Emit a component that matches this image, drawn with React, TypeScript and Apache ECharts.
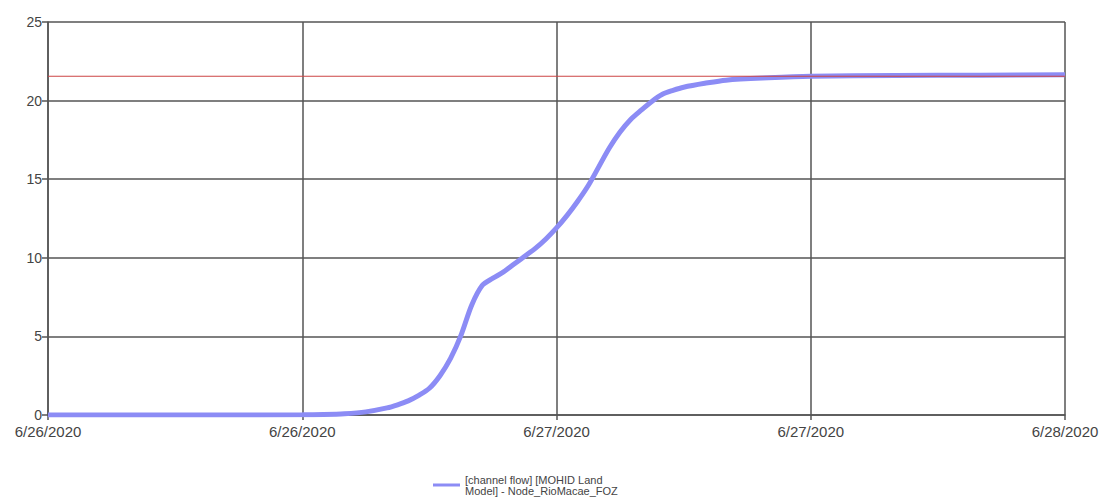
import React, { useEffect, useRef } from "react";
import * as echarts from "echarts";

// hours since 6/26/2020 00:00
const hours = [0, 4, 8, 12, 13, 14, 15, 16, 16.5, 17, 17.5, 18, 18.5, 19, 19.5, 20, 20.5, 21, 21.5, 22, 22.5, 23, 23.5, 24, 24.5, 25, 25.5, 26, 26.5, 27, 27.5, 28, 28.5, 29, 29.5, 30, 31, 32, 34, 36, 40, 44, 48];
const flow = [0, 0, 0, 0.01, 0.03, 0.08, 0.2, 0.45, 0.65, 0.9, 1.25, 1.7, 2.5, 3.6, 5.1, 7.0, 8.25, 8.7, 9.1, 9.6, 10.1, 10.6, 11.2, 11.9, 12.7, 13.6, 14.6, 15.8, 17.0, 18.0, 18.8, 19.4, 19.95, 20.4, 20.65, 20.85, 21.1, 21.3, 21.45, 21.55, 21.6, 21.62, 21.65];
const refHours = [0, 48];
const refValue = [21.55, 21.55];
const xTickLabels = ["6/26/2020", "6/26/2020", "6/27/2020", "6/27/2020", "6/28/2020"];
const seriesName = "[channel flow] [MOHID Land\nModel] - Node_RioMacae_FOZ";

export default function App() {
  const ref = useRef<HTMLDivElement>(null);
  useEffect(() => {
    document.body.style.margin = "0";
    const chart = echarts.init(ref.current!, null, { renderer: "svg" });
    const gridLine = { lineStyle: { color: "#555", width: 1.5 } };
    chart.setOption({
      animation: false,
      backgroundColor: "#fff",
      grid: { left: 48, right: 39, top: 22, bottom: 84, show: false },
      xAxis: {
        type: "value",
        min: 0,
        max: 48,
        interval: 12,
        axisLine: { show: true, lineStyle: { color: "#555", width: 1.5 } },
        axisTick: { show: true, length: 5, lineStyle: { color: "#555", width: 1.5 } },
        splitLine: { show: true, ...gridLine },
        axisLabel: {
          formatter: (v: number) => xTickLabels[Math.round(v / 12)] ?? "",
          color: "#444",
          fontFamily: "Liberation Sans, Arial, sans-serif",
          fontSize: 15,
          margin: 9,
          showMinLabel: true,
          showMaxLabel: true,
        },
      },
      yAxis: {
        type: "value",
        min: 0,
        max: 25,
        interval: 5,
        axisLine: { show: true, lineStyle: { color: "#555", width: 1.5 } },
        axisTick: { show: true, length: 6, lineStyle: { color: "#555", width: 1.5 } },
        splitLine: { show: true, ...gridLine },
        axisLabel: {
          color: "#444",
          fontFamily: "Liberation Sans, Arial, sans-serif",
          fontSize: 14,
          margin: 6,
        },
      },
      legend: {
        data: [{ name: seriesName, icon: "rect" }],
        left: 428,
        top: 469,
        itemWidth: 27,
        itemHeight: 3,
        itemGap: 6,
        textStyle: {
          color: "#444",
          fontFamily: "Liberation Sans, Arial, sans-serif",
          fontSize: 11,
          lineHeight: 11,
        },
      },
      series: [
        {
          name: "reference",
          type: "line",
          data: refHours.map((h, i) => [h, refValue[i]]),
          showSymbol: false,
          lineStyle: { color: "#cc4444", width: 1.2 },
          z: 3,
        },
        {
          name: seriesName,
          type: "line",
          data: hours.map((h, i) => [h, flow[i]]),
          showSymbol: false,
          smooth: 0.3,
          color: "#8c8cf5",
          lineStyle: { color: "#8c8cf5", width: 5 },
          z: 2,
        },
      ],
    });
    return () => chart.dispose();
  }, []);
  return <div ref={ref} style={{ width: 1104, height: 499 }} />;
}
